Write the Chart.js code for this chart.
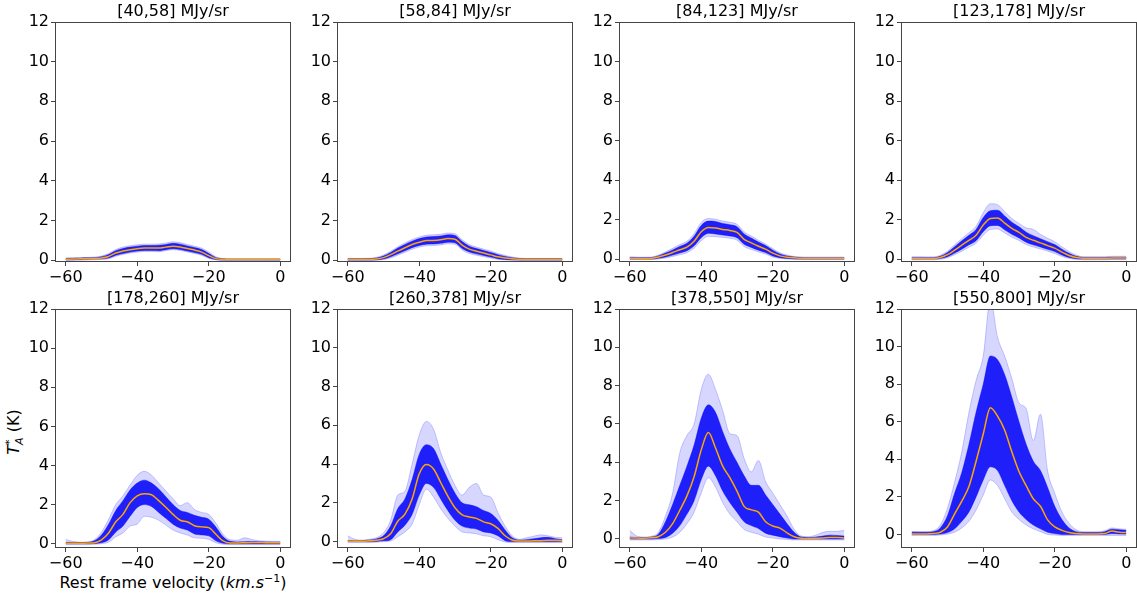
<!DOCTYPE html>
<html>
<head>
<meta charset="utf-8">
<script src="https://cdn.jsdelivr.net/npm/chart.js@4/dist/chart.umd.min.js"></script>
<style>
  body { margin: 0; background: #fff; width: 1137px; height: 597px; position: relative; overflow: hidden;
         font-family: "DejaVu Sans", sans-serif; color: #000; }
  canvas { position: absolute; }
  .ylab { position: absolute; left: 14px; top: 432px; transform: translate(-50%, -50%) rotate(-90deg);
          font-size: 16px; white-space: nowrap; }
  .xlab { position: absolute; left: 173px; top: 582px; transform: translate(-50%, -50%);
          font-size: 16px; white-space: nowrap; }
  .ss { display: inline-block; vertical-align: -4px; line-height: 10px; font-size: 11px; }
  .ss span { display: block; }
  sup { font-size: 11px; }
</style>
</head>
<body>
<div class="ylab"><i>T</i><span class="ss"><span>*</span><span><i>A</i></span></span> (K)</div>
<div class="xlab">Rest frame velocity (<i>km.s</i><sup>&minus;1</sup>)</div>
<script>
// velocity channels (km/s)
const vel = [-60,-58,-56,-54,-52,-50,-48,-46,-44,-42,-40,-38,-36,-34,-32,-30,-28,-26,-24,-22,-20,-18,-16,-14,-12,-10,-8,-6,-4,-2,0];
const xTicks = [-60, -40, -20, 0];
const yTicks = [0, 2, 4, 6, 8, 10, 12];
const titles = ['[40,58] MJy/sr', '[58,84] MJy/sr', '[84,123] MJy/sr', '[123,178] MJy/sr',
                '[178,260] MJy/sr', '[260,378] MJy/sr', '[378,550] MJy/sr', '[550,800] MJy/sr'];
const yMins = [-0.1, -0.1, -0.15, -0.15, -0.22, -0.33, -0.47, -0.72];

// mean spectrum (orange) and envelopes of the individual spectra (dense core / faint outer)
const p1Mean    = [0.04,0.05,0.06,0.07,0.08,0.10,0.18,0.35,0.45,0.52,0.57,0.60,0.60,0.60,0.65,0.70,0.66,0.58,0.50,0.40,0.22,0.07,0.03,0.02,0.02,0.02,0.02,0.02,0.02,0.02,0.02];
const p1CoreHi  = [0.08,0.09,0.10,0.11,0.12,0.16,0.28,0.47,0.58,0.65,0.70,0.73,0.73,0.74,0.78,0.84,0.80,0.71,0.63,0.53,0.33,0.12,0.06,0.05,0.05,0.05,0.05,0.05,0.05,0.05,0.05];
const p1CoreLo  = [0.01,0.02,0.03,0.04,0.05,0.06,0.10,0.24,0.33,0.40,0.45,0.48,0.48,0.47,0.52,0.57,0.53,0.46,0.38,0.29,0.12,0.03,0.00,0.00,0.00,0.00,0.00,0.00,0.00,0.00,0.00];
const p1OuterHi = [0.10,0.11,0.12,0.13,0.15,0.20,0.33,0.53,0.65,0.72,0.77,0.80,0.80,0.81,0.86,0.92,0.88,0.78,0.70,0.60,0.40,0.16,0.08,0.06,0.06,0.06,0.06,0.06,0.06,0.06,0.06];
const p1OuterLo = [-0.02,-0.02,-0.01,0.00,0.01,0.02,0.06,0.19,0.28,0.35,0.40,0.43,0.43,0.42,0.47,0.52,0.48,0.41,0.33,0.24,0.08,0.00,-0.02,-0.02,-0.02,-0.02,-0.02,-0.02,-0.02,-0.02,-0.02];

const p2Mean    = [0.03,0.03,0.03,0.03,0.05,0.12,0.27,0.45,0.62,0.78,0.90,0.98,0.99,1.02,1.08,1.05,0.75,0.55,0.44,0.35,0.26,0.16,0.10,0.06,0.03,0.03,0.03,0.03,0.03,0.03,0.03];
const p2CoreHi  = [0.06,0.06,0.06,0.07,0.10,0.20,0.38,0.60,0.78,0.95,1.08,1.16,1.18,1.21,1.27,1.24,0.93,0.70,0.58,0.48,0.38,0.27,0.18,0.11,0.07,0.06,0.06,0.06,0.06,0.06,0.06];
const p2CoreLo  = [0.00,0.00,0.00,0.00,0.01,0.05,0.16,0.31,0.47,0.62,0.73,0.80,0.81,0.84,0.90,0.87,0.58,0.41,0.31,0.23,0.15,0.07,0.03,0.01,0.00,0.00,0.00,0.00,0.00,0.00,0.00];
const p2OuterHi = [0.08,0.08,0.08,0.09,0.13,0.25,0.44,0.67,0.86,1.03,1.16,1.25,1.27,1.30,1.36,1.33,1.02,0.78,0.65,0.55,0.45,0.33,0.23,0.15,0.10,0.08,0.08,0.08,0.08,0.08,0.08];
const p2OuterLo = [-0.02,-0.02,-0.02,-0.02,-0.01,0.02,0.10,0.24,0.39,0.54,0.65,0.72,0.73,0.76,0.82,0.79,0.50,0.33,0.24,0.17,0.10,0.03,0.00,-0.01,-0.02,-0.02,-0.02,-0.02,-0.02,-0.02,-0.02];

const p3Mean    = [0.04,0.03,0.02,0.03,0.10,0.20,0.33,0.47,0.60,0.90,1.38,1.60,1.57,1.50,1.45,1.35,1.00,0.82,0.65,0.50,0.30,0.16,0.09,0.06,0.04,0.04,0.04,0.04,0.04,0.04,0.04];
const p3CoreHi  = [0.08,0.07,0.06,0.07,0.16,0.30,0.46,0.64,0.80,1.15,1.70,1.92,1.90,1.80,1.74,1.64,1.27,1.06,0.86,0.68,0.45,0.26,0.15,0.10,0.08,0.07,0.07,0.07,0.07,0.07,0.07];
const p3CoreLo  = [0.00,0.00,0.00,0.00,0.04,0.10,0.20,0.31,0.42,0.67,1.08,1.30,1.27,1.22,1.17,1.08,0.75,0.59,0.45,0.33,0.16,0.07,0.03,0.01,0.00,0.00,0.00,0.00,0.00,0.00,0.00];
const p3OuterHi = [0.11,0.10,0.09,0.10,0.20,0.36,0.54,0.73,0.90,1.28,1.85,2.05,2.02,1.92,1.86,1.76,1.38,1.16,0.95,0.76,0.53,0.32,0.20,0.13,0.10,0.10,0.10,0.10,0.10,0.10,0.10];
const p3OuterLo = [-0.03,-0.03,-0.03,-0.03,0.00,0.05,0.13,0.22,0.32,0.55,0.93,1.15,1.13,1.10,1.05,0.96,0.63,0.48,0.36,0.25,0.10,0.03,0.00,-0.02,-0.03,-0.03,-0.03,-0.03,-0.03,-0.03,-0.03];

const p4Mean    = [0.03,0.03,0.03,0.03,0.08,0.22,0.45,0.70,0.95,1.20,1.72,2.05,2.08,1.82,1.55,1.35,1.10,0.95,0.82,0.68,0.55,0.35,0.18,0.08,0.04,0.04,0.04,0.04,0.05,0.05,0.05];
const p4CoreHi  = [0.07,0.07,0.07,0.07,0.14,0.33,0.62,0.92,1.20,1.50,2.10,2.45,2.47,2.18,1.86,1.63,1.36,1.18,1.03,0.88,0.73,0.50,0.29,0.14,0.08,0.08,0.08,0.08,0.09,0.09,0.09];
const p4CoreLo  = [0.00,0.00,0.00,0.00,0.03,0.12,0.30,0.50,0.72,0.93,1.38,1.68,1.70,1.48,1.25,1.07,0.85,0.72,0.61,0.49,0.38,0.21,0.08,0.02,0.00,0.00,0.00,0.00,0.01,0.01,0.01];
const p4OuterHi = [0.12,0.12,0.11,0.11,0.19,0.40,0.72,1.03,1.33,1.66,2.35,2.80,2.75,2.40,2.05,1.80,1.58,1.50,1.25,1.05,0.88,0.62,0.38,0.20,0.12,0.12,0.12,0.12,0.14,0.14,0.14];
const p4OuterLo = [-0.04,-0.04,-0.04,-0.04,-0.01,0.07,0.22,0.40,0.60,0.80,1.20,1.50,1.52,1.32,1.10,0.94,0.73,0.61,0.51,0.40,0.28,0.13,0.03,-0.02,-0.04,-0.04,-0.04,-0.04,-0.03,-0.03,-0.03];

const p5Mean    = [0.02,0.02,0.02,0.03,0.05,0.20,0.55,1.12,1.50,2.10,2.45,2.55,2.50,2.20,1.86,1.50,1.20,1.12,0.92,0.86,0.82,0.48,0.14,0.04,0.04,0.05,0.06,0.06,0.05,0.05,0.05];
const p5CoreHi  = [0.07,0.06,0.06,0.07,0.15,0.45,1.00,1.70,2.20,2.75,3.10,3.25,3.10,2.80,2.40,2.00,1.70,1.60,1.45,1.35,1.25,0.85,0.35,0.12,0.09,0.10,0.11,0.10,0.09,0.08,0.08];
const p5CoreLo  = [0.00,0.00,0.00,0.00,0.01,0.05,0.20,0.60,0.90,1.40,1.85,2.00,1.90,1.60,1.30,1.00,0.80,0.70,0.50,0.45,0.40,0.15,0.02,0.00,0.00,0.00,0.00,0.00,0.00,0.00,0.00];
const p5OuterHi = [0.22,0.12,0.08,0.09,0.20,0.60,1.25,2.00,2.45,3.00,3.50,3.70,3.50,3.10,2.70,2.30,1.95,2.10,1.75,1.60,1.50,1.05,0.48,0.20,0.18,0.30,0.22,0.15,0.13,0.12,0.12];
const p5OuterLo = [-0.05,-0.05,-0.05,-0.05,-0.03,0.00,0.08,0.35,0.55,0.90,1.00,1.40,1.35,1.20,0.95,0.70,0.55,0.45,0.30,0.28,0.22,0.05,-0.03,-0.05,-0.05,-0.05,-0.05,-0.05,-0.05,-0.05,-0.05];

const p6Mean    = [0.02,0.02,0.02,0.04,0.07,0.15,0.40,1.05,1.42,2.20,3.50,3.98,3.75,3.05,2.35,1.75,1.38,1.27,1.20,1.02,0.92,0.68,0.30,0.08,0.03,0.03,0.04,0.05,0.07,0.07,0.05];
const p6CoreHi  = [0.06,0.05,0.05,0.08,0.14,0.30,0.80,1.70,2.20,3.20,4.50,5.00,4.80,4.00,3.20,2.50,2.00,1.90,1.80,1.60,1.45,1.10,0.60,0.20,0.08,0.10,0.15,0.20,0.22,0.15,0.10];
const p6CoreLo  = [0.00,0.00,0.00,0.00,0.01,0.04,0.10,0.50,0.85,1.40,2.40,3.00,2.80,2.20,1.60,1.10,0.80,0.70,0.65,0.50,0.45,0.30,0.05,0.00,0.00,0.00,0.00,0.00,0.00,0.00,0.00];
const p6OuterHi = [0.30,0.12,0.08,0.12,0.20,0.45,1.10,2.40,2.60,4.00,5.50,6.20,5.80,4.60,3.70,2.90,2.40,2.80,3.00,2.40,2.30,1.50,0.80,0.30,0.12,0.20,0.28,0.35,0.30,0.22,0.20];
const p6OuterLo = [-0.05,-0.05,-0.05,-0.05,-0.03,0.00,0.03,0.25,0.50,0.90,1.90,2.70,2.30,1.70,1.20,0.80,0.50,0.45,0.40,0.30,0.25,0.10,-0.02,-0.05,-0.05,-0.05,-0.05,-0.05,-0.05,-0.05,-0.05];

const p7Mean    = [0.05,0.05,0.04,0.06,0.12,0.35,0.80,1.50,2.25,3.25,4.65,5.55,4.75,3.80,3.20,2.50,1.70,1.52,1.40,0.90,0.68,0.57,0.32,0.12,0.04,0.03,0.04,0.05,0.08,0.08,0.05];
const p7CoreHi  = [0.10,0.08,0.08,0.10,0.25,0.90,1.80,2.80,3.80,4.90,6.30,7.00,6.60,5.60,4.70,4.00,3.30,2.80,2.80,2.30,1.80,1.30,0.80,0.35,0.10,0.08,0.10,0.15,0.20,0.18,0.15];
const p7CoreLo  = [0.00,0.00,0.00,0.00,0.02,0.08,0.30,0.70,1.30,2.00,3.10,3.80,3.30,2.50,1.90,1.40,0.90,0.70,0.55,0.30,0.20,0.12,0.05,0.00,0.00,0.00,0.00,0.00,0.00,0.00,0.00];
const p7OuterHi = [0.45,0.15,0.10,0.14,0.35,1.20,2.40,4.50,5.40,6.00,7.80,8.60,7.80,6.70,5.50,5.40,4.20,3.50,4.10,3.00,2.40,1.80,1.20,0.50,0.15,0.12,0.20,0.35,0.40,0.40,0.45];
const p7OuterLo = [-0.05,-0.05,-0.05,-0.05,-0.03,0.00,0.10,0.35,0.80,1.40,2.40,3.20,2.70,1.90,1.30,0.90,0.50,0.35,0.25,0.10,0.05,0.00,-0.03,-0.05,-0.05,-0.05,-0.05,-0.05,-0.05,-0.05,-0.05];

const p8Mean    = [0.03,0.03,0.03,0.05,0.12,0.40,1.10,1.78,2.55,3.90,5.35,6.75,6.30,5.55,4.40,3.35,2.60,1.90,1.50,0.78,0.40,0.22,0.10,0.05,0.03,0.03,0.03,0.05,0.18,0.12,0.10];
const p8CoreHi  = [0.12,0.12,0.12,0.15,0.35,1.00,2.20,3.30,4.80,6.50,8.00,9.50,9.30,8.50,7.30,6.00,4.80,3.90,3.40,2.50,1.50,0.80,0.35,0.15,0.10,0.10,0.10,0.15,0.28,0.25,0.22];
const p8CoreLo  = [0.00,0.00,0.00,0.00,0.02,0.10,0.30,0.70,1.20,2.00,2.90,3.60,3.40,2.60,1.80,1.20,0.80,0.50,0.30,0.12,0.05,0.00,0.00,0.00,0.00,0.00,0.00,0.00,0.05,0.03,0.02];
const p8OuterHi = [0.16,0.15,0.15,0.20,0.50,1.40,2.80,4.40,6.50,8.20,9.50,12.5,10.5,9.50,8.30,7.00,6.70,5.00,6.40,3.40,2.20,1.20,0.60,0.25,0.15,0.15,0.15,0.20,0.35,0.30,0.28];
const p8OuterLo = [-0.05,-0.05,-0.05,-0.05,-0.03,0.02,0.12,0.35,0.70,1.30,2.10,2.90,2.60,1.90,1.20,0.80,0.50,0.30,0.15,0.00,-0.03,-0.05,-0.05,-0.05,-0.05,-0.05,-0.05,-0.05,-0.05,-0.05,-0.05];

const panels = [
  [p1Mean, p1CoreLo, p1CoreHi, p1OuterLo, p1OuterHi],
  [p2Mean, p2CoreLo, p2CoreHi, p2OuterLo, p2OuterHi],
  [p3Mean, p3CoreLo, p3CoreHi, p3OuterLo, p3OuterHi],
  [p4Mean, p4CoreLo, p4CoreHi, p4OuterLo, p4OuterHi],
  [p5Mean, p5CoreLo, p5CoreHi, p5OuterLo, p5OuterHi],
  [p6Mean, p6CoreLo, p6CoreHi, p6OuterLo, p6OuterHi],
  [p7Mean, p7CoreLo, p7CoreHi, p7OuterLo, p7OuterHi],
  [p8Mean, p8CoreLo, p8CoreHi, p8OuterLo, p8OuterHi]
];

// layout of the plot boxes
const colLeft = [55, 337, 619, 901];
const rowTop = [22, 309];
const plotW = 236;
const plotH = [240, 239];
const AXW = 50, AXH = 28, TITLEH = 24, PADR = 8;

const font = { family: '"DejaVu Sans", sans-serif', size: 16 };
const titleFont = { family: '"DejaVu Sans", sans-serif', size: 16, weight: 'normal' };
const minus = v => String(v).replace('-', '\u2212');
const pts = arr => arr.map((y, i) => ({ x: vel[i], y: y }));

// all four spines, like matplotlib
const frame = {
  id: 'frame',
  afterDraw(chart) {
    const a = chart.chartArea, c = chart.ctx;
    c.save();
    c.strokeStyle = '#444';
    c.lineWidth = 1;
    c.strokeRect(Math.round(a.left) + 0.5, Math.round(a.top) + 0.5, Math.round(a.width) - 1, Math.round(a.height) - 1);
    c.restore();
  }
};

panels.forEach((p, k) => {
  const r = Math.floor(k / 4), col = k % 4;
  const cv = document.createElement('canvas');
  const w = AXW + plotW + PADR, h = TITLEH + plotH[r] + AXH;
  cv.width = w; cv.height = h;
  cv.style.left = (colLeft[col] - AXW) + 'px';
  cv.style.top = (rowTop[r] - TITLEH) + 'px';
  cv.style.width = w + 'px'; cv.style.height = h + 'px';
  document.body.appendChild(cv);

  const line = { pointRadius: 0, cubicInterpolationMode: 'monotone' };
  new Chart(cv, {
    type: 'line',
    data: {
      datasets: [
        Object.assign({ data: pts(p[0]), borderColor: '#ffa500', borderWidth: 1.5, fill: false, order: 0 }, line),
        Object.assign({ data: pts(p[1]), borderColor: 'rgba(0,0,255,0.45)', borderWidth: 1, fill: false, order: 1 }, line),
        Object.assign({ data: pts(p[2]), borderColor: 'rgba(0,0,255,0.45)', borderWidth: 1, backgroundColor: 'rgba(0,0,248,0.86)', fill: 1, order: 1 }, line),
        Object.assign({ data: pts(p[3]), borderColor: 'rgba(0,0,255,0.2)', borderWidth: 1, fill: false, order: 2 }, line),
        Object.assign({ data: pts(p[4]), borderColor: 'rgba(0,0,255,0.2)', borderWidth: 1, backgroundColor: 'rgba(0,0,255,0.16)', fill: 3, order: 2 }, line)
      ]
    },
    options: {
      responsive: false,
      animation: false,
      events: [],
      layout: { padding: { left: 0, right: PADR, top: 0, bottom: 0 } },
      plugins: {
        legend: { display: false },
        tooltip: { enabled: false },
        title: { display: true, fullSize: false, text: titles[k], color: '#000', font: titleFont, padding: { top: 4, bottom: 0.8 } }
      },
      scales: {
        x: {
          type: 'linear', min: -63, max: 3,
          afterBuildTicks: s => { s.ticks = xTicks.map(v => ({ value: v })); },
          afterFit: s => { s.height = AXH; },
          grid: { drawOnChartArea: false, drawTicks: true, tickLength: 4, tickColor: '#444' },
          border: { display: false },
          ticks: { color: '#000', font: font, padding: 2, maxRotation: 0, callback: minus }
        },
        y: {
          type: 'linear', min: yMins[k], max: 12,
          afterBuildTicks: s => { s.ticks = yTicks.map(v => ({ value: v })); },
          afterFit: s => { s.width = AXW; },
          grid: { drawOnChartArea: false, drawTicks: true, tickLength: 4, tickColor: '#444' },
          border: { display: false },
          ticks: { color: '#000', font: font, padding: 2, callback: minus }
        }
      }
    },
    plugins: [frame]
  });
});
</script>
</body>
</html>
